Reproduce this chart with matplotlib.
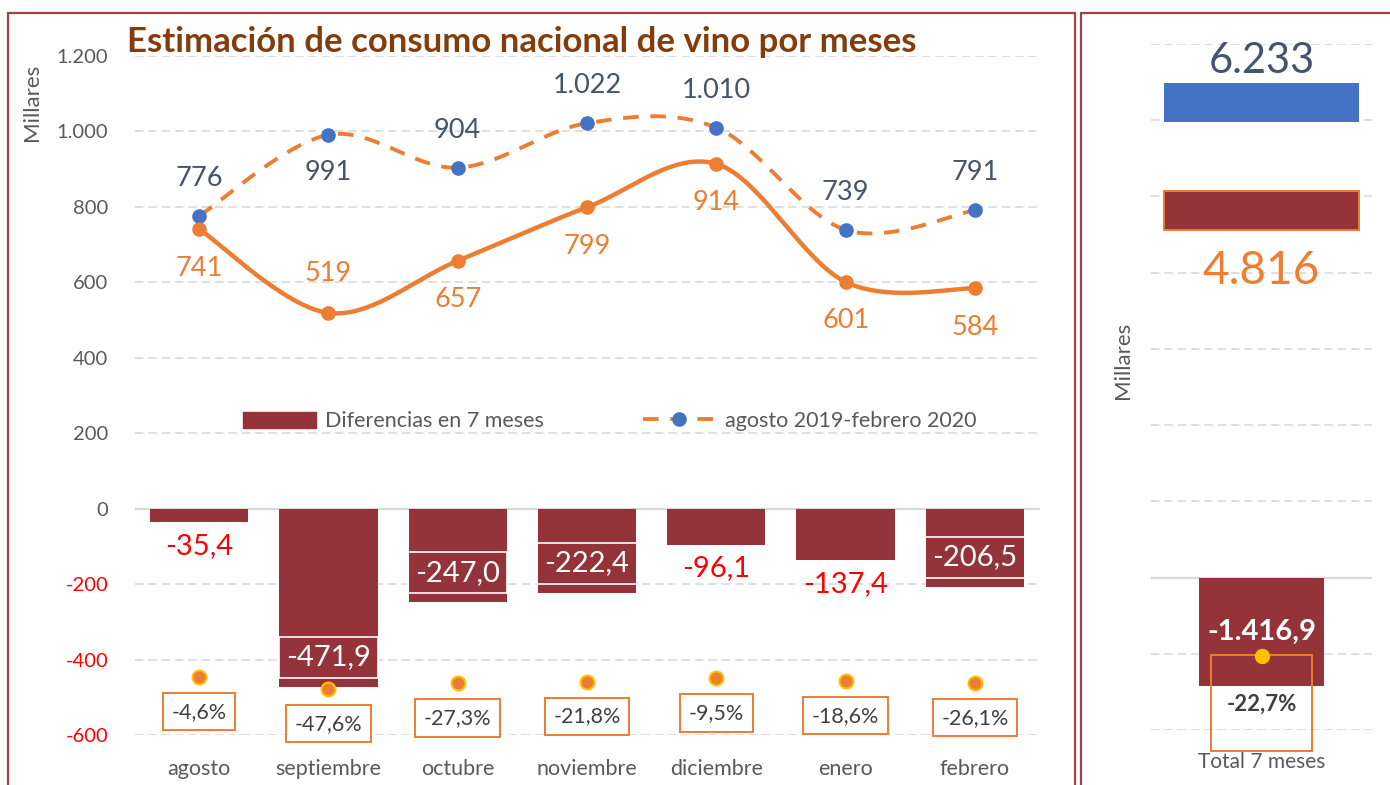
import numpy as np
import matplotlib.pyplot as plt
from matplotlib.patches import Rectangle, Patch
from matplotlib.lines import Line2D

plt.rcParams['font.family'] = ['Lato', 'DejaVu Sans']

# Datos (millares)
meses = ['agosto', 'septiembre', 'octubre', 'noviembre', 'diciembre', 'enero', 'febrero']
consumo_anterior = [776, 991, 904, 1022, 1010, 739, 791]   # agosto 2019-febrero 2020
consumo_actual = [741, 519, 657, 799, 914, 601, 584]
diferencias = [-35.4, -471.9, -247.0, -222.4, -96.1, -137.4, -206.5]
variacion_pct = [-4.6, -47.6, -27.3, -21.8, -9.5, -18.6, -26.1]
total_anterior = 6233
total_actual = 4816
total_dif = -1416.9
total_pct = -22.7

# colores
ROJO = '#95333A'
NARANJA = '#ED7D31'
AZUL = '#4472C4'
PIZARRA = '#44546A'
GRIS = '#595959'
GRID = '#D9D9D9'
ORO = '#FFC000'
MARCO = '#A0404A'


def fmt(v, dec=0):
    s = f'{v:,.{dec}f}'
    return s.replace(',', 'X').replace('.', ',').replace('X', '.')


def smooth(x, y, n=40):
    # curva suavizada tipo Excel (Catmull-Rom / Bezier)
    p = np.column_stack([x, y]).astype(float)
    out = []
    for i in range(len(p) - 1):
        p0 = p[i - 1] if i > 0 else p[i]
        p1, p2 = p[i], p[i + 1]
        p3 = p[i + 2] if i + 2 < len(p) else p[i + 1]
        c1 = p1 + (p2 - p0) / 6
        c2 = p2 - (p3 - p1) / 6
        t = np.linspace(0, 1, n)[:, None]
        seg = (1 - t) ** 3 * p1 + 3 * (1 - t) ** 2 * t * c1 + 3 * (1 - t) * t ** 2 * c2 + t ** 3 * p2
        out.append(seg if i == 0 else seg[1:])
    out = np.vstack(out)
    return out[:, 0], out[:, 1]


fig = plt.figure(figsize=(13.9, 7.85), dpi=100)
W, H = 1390, 785

# marcos de los paneles
fig.add_artist(Rectangle((8 / W, -0.02), (1075 - 8) / W, (785 - 13) / H + 0.02,
                         transform=fig.transFigure, fill=False, ec=MARCO, lw=1.6))
fig.add_artist(Rectangle((1081 / W, -0.02), 0.3, (785 - 13) / H + 0.02,
                         transform=fig.transFigure, fill=False, ec=MARCO, lw=1.6))

# ---------------- panel mensual ----------------
ax = fig.add_axes([134.5 / W, 50 / H, 905 / W, 679 / H])
x = np.arange(len(meses))

ax.bar(x, diferencias, width=0.76, color=ROJO, zorder=2)

xs, ys = smooth(x, consumo_anterior)
ax.plot(xs, ys, color=NARANJA, lw=2.8, dashes=(4, 3), zorder=3)
ax.plot(x, consumo_anterior, 'o', color=AZUL, ms=9.5, zorder=4)

xs, ys = smooth(x, consumo_actual)
ax.plot(xs, ys, color=NARANJA, lw=3.2, zorder=3, solid_capstyle='round')
ax.plot(x, consumo_actual, 'o', color=NARANJA, ms=9.5, zorder=4)

# etiquetas de las series
pos_anterior = [1, -1, 1, 1, 1, 1, 1]
pos_actual = [-1, 1, -1, -1, -1, -1, -1]
for i in range(len(meses)):
    ax.annotate(fmt(consumo_anterior[i]), (x[i], consumo_anterior[i]),
                xytext=(0, 27 * pos_anterior[i]), textcoords='offset points',
                ha='center', va='center', fontsize=19.5, color=PIZARRA, zorder=6)
    ax.annotate(fmt(consumo_actual[i]), (x[i], consumo_actual[i]),
                xytext=(0, 28 * pos_actual[i]), textcoords='offset points',
                ha='center', va='center', fontsize=19.5, color=NARANJA, zorder=6)

# etiquetas de diferencias
for i, v in enumerate(diferencias):
    dentro = abs(v) > 200
    off = 21 if dentro else -17
    ax.annotate(fmt(v, 1), (x[i], v), xytext=(0, off), textcoords='offset points',
                ha='center', va='center', fontsize=21,
                color='white' if dentro else '#FF0000', zorder=6,
                bbox=dict(boxstyle='square,pad=0.25', fc='none', ec='white', lw=1.2))

ax.set_xlim(-0.5, len(meses) - 0.5)
ax.set_ylim(-600, 1200)
ax.set_yticks(range(-600, 1201, 200))
ax.set_yticklabels([fmt(t) for t in range(-600, 1201, 200)])
for t, lab in zip(range(-600, 1201, 200), ax.get_yticklabels()):
    lab.set_color('#FF0000' if t < 0 else GRIS)
ax.set_xticks(x)
ax.set_xticklabels(meses, color=GRIS)
ax.tick_params(axis='y', length=0, pad=19, labelsize=14.5)
ax.tick_params(axis='x', length=0, pad=17, labelsize=15.5)
ax.grid(axis='y', color=GRID, ls=(0, (5, 3)), lw=1.2, zorder=0)
ax.axhline(0, color=GRID, lw=1.6, zorder=1)
for s in ax.spines.values():
    s.set_visible(False)

# variación porcentual (eje secundario)
ax2 = ax.twinx()
ax2.set_ylim(-212.5, 2221)
ax2.axis('off')
ax2.plot(x, variacion_pct, 'o', color=NARANJA, mec=ORO, mew=1.5, ms=10, zorder=5)
for i, p in enumerate(variacion_pct):
    ax2.annotate(fmt(p, 1) + '%', (x[i], p), xytext=(0, -25), textcoords='offset points',
                 ha='center', va='center', fontsize=15.5, color='#404040',
                 bbox=dict(boxstyle='square,pad=0.4', fc='white', ec=NARANJA, lw=1.4))

# leyenda
h_bar = Patch(color=ROJO)
h_lin = Line2D([], [], color=NARANJA, lw=2.8, dashes=(4, 3), marker='o',
               mfc=AZUL, mec=AZUL, ms=9.5)
ax.legend([h_bar, h_lin], ['Diferencias en 7 meses', 'agosto 2019-febrero 2020'],
          loc='center', bbox_to_anchor=(0.525, 0.462), ncol=2, frameon=False,
          fontsize=15.5, labelcolor=GRIS, handlelength=3.4, handleheight=0.8,
          columnspacing=4.6, handletextpad=0.4)

fig.text(127 / W, 1 - 42 / H, 'Estimación de consumo nacional de vino por meses',
         fontsize=25, fontweight='bold', color='#843C0C', ha='left', va='center')
fig.text(32 / W, 1 - 102 / H, 'Millares', rotation=90, fontsize=16, color=GRIS,
         ha='center', va='center')

# ---------------- panel total ----------------
axr = fig.add_axes([1151 / W, 55 / H, 221 / W, 686 / H])
axr.set_xlim(-0.5, 0.5)
axr.set_ylim(-2000, 7000)
for g in range(-2000, 7001, 1000):
    if g == 0:
        axr.axhline(g, color=GRID, lw=1.6, zorder=1)
    else:
        axr.axhline(g, color=GRID, ls=(0, (5, 3)), lw=1.2, zorder=0)

grosor = 520
axr.bar(0, grosor, bottom=total_anterior - grosor / 2, width=0.88, color=AZUL, zorder=2)
axr.bar(0, grosor, bottom=total_actual - grosor / 2, width=0.88, color=ROJO,
        ec=NARANJA, lw=1.4, zorder=2)
axr.bar(0, total_dif, width=0.57, color=ROJO, zorder=2)

axr.annotate(fmt(total_anterior), (0, total_anterior + grosor / 2), xytext=(0, 2),
             textcoords='offset points', ha='center', va='bottom', fontsize=30, color=PIZARRA)
axr.annotate(fmt(total_actual), (0, total_actual - grosor / 2), xytext=(0, -14),
             textcoords='offset points', ha='center', va='top', fontsize=33, color=NARANJA)
axr.text(0, total_dif / 2, fmt(total_dif, 1), ha='center', va='center', fontsize=21,
         fontweight='bold', color='white', zorder=4)

axr.set_yticks([])
axr.set_xticks([0])
axr.set_xticklabels(['Total 7 meses'], color=GRIS)
axr.tick_params(axis='x', length=0, pad=16, labelsize=15)
for s in axr.spines.values():
    s.set_visible(False)

axr2 = axr.twinx()
axr2.set_ylim(-288, 2171)
axr2.axis('off')
axr2.plot(0, total_pct, 'o', color=ORO, ms=10, zorder=6)
axr.add_patch(Rectangle((-0.23, -2280), 0.46, 1260, fill=False, ec=NARANJA, lw=1.4,
                        clip_on=False, zorder=5))
axr2.annotate(fmt(total_pct, 1) + '%', (0, total_pct), xytext=(0, -35),
              textcoords='offset points', ha='center', va='center', fontsize=16,
              fontweight='bold', color='#404040')

fig.text(1123 / W, 1 - 360 / H, 'Millares', rotation=90, fontsize=16, color=GRIS,
         ha='center', va='center')

plt.savefig('out.png', dpi=100)
